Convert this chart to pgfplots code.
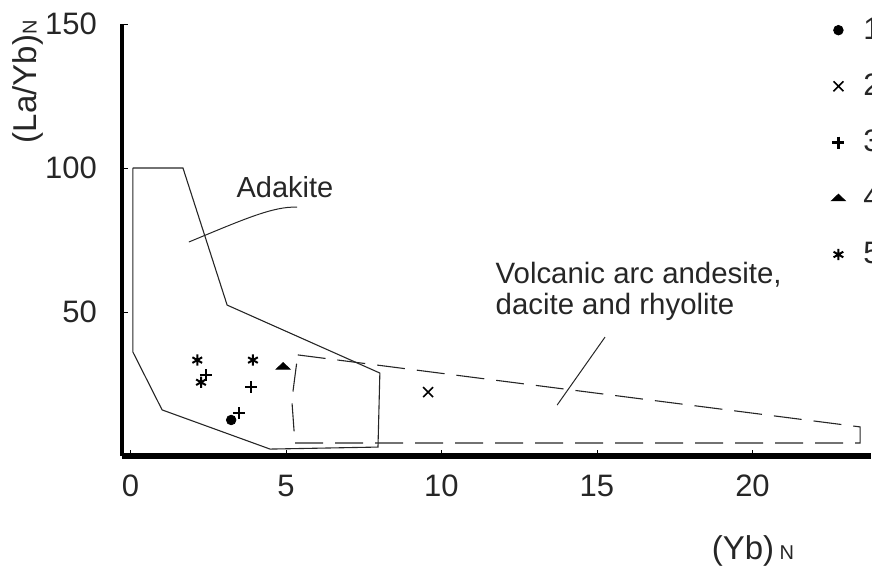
\documentclass[border=0pt]{standalone}
\usepackage{fontspec}
\setmainfont{Liberation Sans}
\usepackage{pgfplots}
\pgfplotsset{compat=1.18}
\begin{document}
\begin{tikzpicture}
\begin{axis}[
 name=ax,
 scale only axis,
 width=374.5pt, height=216pt,
 xmin=-0.27, xmax=23.81, ymin=0, ymax=150,
 axis lines=left,
 axis line style={-, line width=2pt, black},
 x axis line style={line width=2.7pt},
 xtick={0,5,10,15,20},
 ytick={50,100,150},
 tick align=inside,
 major tick length=3pt,
 tick style={black, line width=0.4pt},
 /pgf/number format/assume math mode=true,
 tick label style={font=\fontsize{15.5}{17}\selectfont, text=black!85},
 xticklabel style={yshift=-6pt},
 yticklabel style={xshift=-9pt},
 xlabel={(Yb)\,{\fontsize{10}{10}\selectfont N}},
 ylabel={(La/Yb){\fontsize{10}{10}\selectfont N}},
 label style={font=\fontsize{16.5}{18}\selectfont, text=black!85},
 xlabel style={at={(rel axis cs:0.8425,0)}, anchor=center, yshift=-47.5pt},
 ylabel style={at={(rel axis cs:-0.1255,0.866)}, anchor=center},
 legend style={at={(rel axis cs:0.9467,1.024)}, anchor=north west, draw=none, fill=none, inner sep=0pt, row sep=11.8pt, font=\fontsize{15.5}{17}\selectfont, text=black!85, /tikz/every odd column/.append style={column sep=7pt}},
 legend cell align=left,
 clip=false,
]
% Adakite field
\addplot[black!85, line width=0.55pt, forget plot] coordinates {
 (0.08,100) (1.69,100) (3.11,52.4) (8.02,28.8) (7.96,3.1) (4.49,2.4) (1.02,16.0) (0.08,36.1) (0.08,100)};
% Volcanic arc field
\addplot[black!85, line width=0.55pt, dash pattern=on 14pt off 6pt, forget plot] coordinates {
 (5.38,35.1) (23.46,10.1) (23.46,4.5) (5.29,4.5) (5.19,19.4) (5.38,35.1)};

\addplot[only marks, mark=*, mark size=2.4pt, black] coordinates {(3.24,12.5)};
\addlegendentry{1}
\addplot[only marks, mark=x, mark size=3.5pt, black, mark options={line width=0.8pt}] coordinates {(9.57,22.2)};
\addlegendentry{2}
\addplot[only marks, mark=+, mark size=3pt, black, mark options={line width=1.1pt}] coordinates {(2.43,28.1) (3.88,23.9) (3.49,14.9)};
\addlegendentry{3}
\addplot[only marks, mark=triangle*, mark size=4pt, black, mark options={yscale=0.55}] coordinates {(4.91,30.9)};
\addlegendentry{4}
\addplot[only marks, mark=asterisk, mark size=2.8pt, black, mark options={line width=1pt}] coordinates {(2.15,33.3) (3.94,33.3) (2.27,25.6)};
\addlegendentry{5}

\node[font=\fontsize{14.5}{16}\selectfont, text=black!85] at (axis cs:4.97,93.4) {Adakite};
\node[font=\fontsize{14.7}{15.5}\selectfont, text=black!85, align=left, anchor=west, inner sep=0pt] at (axis cs:11.73,57.3) {Volcanic arc andesite,\\dacite and rhyolite};
\draw[black!85, line width=0.5pt] (axis cs:1.88,74.3) .. controls (axis cs:3.6,82) and (axis cs:4.6,86.8) .. (axis cs:5.36,86.4);
\draw[black!85, line width=0.5pt] (axis cs:15.26,41.3) -- (axis cs:13.72,17.7);
\end{axis}
\pgfresetboundingbox
\path[use as bounding box] ([xshift=-61pt,yshift=-55pt]ax.south west) rectangle ([xshift=0.5pt,yshift=12pt]ax.north east);
\end{tikzpicture}
\end{document}
